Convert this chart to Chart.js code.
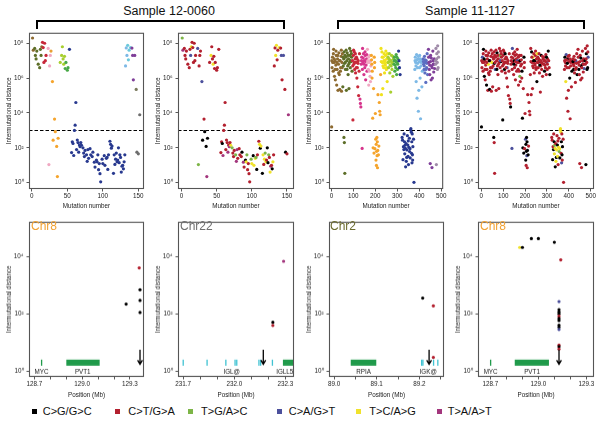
<!DOCTYPE html>
<html><head><meta charset="utf-8">
<script src="https://cdn.jsdelivr.net/npm/chart.js@4.4.1/dist/chart.umd.min.js"></script>
<style>
body{margin:0;background:#fff;width:600px;height:426px;position:relative;overflow:hidden;font-family:'Liberation Sans',Arial,sans-serif;color:#111}
canvas{position:absolute}
.stitle{position:absolute;font-size:12.5px;line-height:14px;white-space:nowrap;transform:translateX(-50%)}
.bracket{position:absolute;border:2.6px solid #000;border-bottom:none;height:7px;box-sizing:content-box}
.chr{position:absolute;font-size:12px;line-height:12px;z-index:5}
.lsq{position:absolute;width:5px;height:5px;top:409px}
.ltx{position:absolute;top:405px;font-size:11px;line-height:13px;white-space:nowrap}
</style></head><body>
<div class="stitle" style="left:169px;top:4px">Sample 12-0060</div>
<div class="stitle" style="left:470px;top:4px">Sample 11-1127</div>
<div class="bracket" style="left:35.5px;top:19.5px;width:245px"></div>
<div class="bracket" style="left:337px;top:19.5px;width:244px"></div>
<div class="chr" style="left:31px;top:220px;color:#f2a233">Chr8</div>
<div class="chr" style="left:180px;top:220px;color:#6f6f6f">Chr22</div>
<div class="chr" style="left:330px;top:220px;color:#6b6b2e">Chr2</div>
<div class="chr" style="left:480px;top:220px;color:#f2a233">Chr8</div>
<script>
// ---------------- DATA ----------------
// mutation types
const TYPE_KEYS   = ['K','R','G','B','Y','P'];
const TYPE_LABELS = ['C>G/G>C','C>T/G>A','T>G/A>C','C>A/G>T','T>C/A>G','T>A/A>T'];
// tick values (log10 of intermutational distance)
const TOP_Y_TICKS = [0,2,4,6,8];
const BOT_Y_TICKS = [0,2,4];
const S1_X_TICKS = [0,50,100,150];
const S2_X_TICKS = [0,100,200,300,400,500];
const THRESHOLD_LOG = 3;

// Sample 12-0060 : [mutation number, log10 distance, chromosome, type]
const sample1 = [
[1,8.3,1,'G'],[2,7.6,1,'P'],[4,7.7,2,'R'],[5,7.3,2,'R'],[6,7.1,2,'R'],[7,7.55,2,'R'],[9,6.8,2,'R'],[11,6.6,2,'R'],[12,7.65,2,'R'],[13,7.3,2,'B'],[14,7.8,1,'Y'],
[15,8.05,3,'R'],[16,7.75,3,'R'],[17,6.9,3,'R'],[18,8.0,3,'R'],[19,7.0,3,'R'],[20,7.3,3,'R'],[23,7.7,5,'B'],[24,1.04,5,'G'],[25,6.7,5,'R'],[26,7.3,5,'R'],[27,7.55,6,'R'],
[29,5.8,8,'B'],[30,2.44,8,'K'],[32,3.65,8,'R'],[33,2.93,8,'K'],[35,2.08,8,'K'],[36,0.35,8,'P'],[37,2.55,8,'K'],
[40,6.9,10,'R'],[42,7.3,10,'Y'],[43,7.8,10,'R'],[44,7.1,10,'R'],[45,6.8,10,'Y'],[46,7.25,10,'R'],[47,6.55,11,'R'],[48,6.9,11,'R'],[50,6.45,11,'R'],[51,6.6,11,'R'],[53,7.65,14,'R'],
[56,1.73,14,'R'],[57,2.35,14,'R'],[58,2.25,14,'K'],[59,1.56,14,'P'],[60,3.0,14,'R'],[61,3.3,14,'R'],[62,4.6,14,'R'],[63,1.9,14,'R'],[64,2.45,14,'R'],[65,2.3,14,'R'],[66,1.75,14,'P'],
[67,2.16,14,'R'],[68,2.07,14,'P'],[69,2.3,14,'R'],[70,2.15,14,'Y'],[72,2.0,14,'G'],[73,1.7,14,'R'],[74,1.5,14,'R'],[75,1.85,14,'R'],[77,1.6,14,'G'],[78,1.23,14,'P'],[79,1.9,14,'P'],
[80,1.4,14,'R'],[82,1.95,14,'R'],[83,1.6,14,'R'],[85,1.5,14,'R'],[86,1.75,14,'K'],[88,1.18,14,'P'],[89,0.9,14,'R'],[91,1.3,14,'K'],[92,1.2,14,'Y'],[93,1.6,14,'G'],[94,0.75,14,'R'],
[95,1.1,14,'R'],[96,0.52,14,'R'],[97,0.05,14,'R'],[99,1.35,14,'G'],[100,1.1,14,'Y'],[102,1.55,14,'K'],[103,1.0,14,'Y'],[105,1.4,14,'Y'],[106,1.45,14,'G'],[107,0.76,14,'K'],[108,1.6,14,'R'],
[110,2.38,14,'R'],[111,2.2,14,'Y'],[112,1.98,14,'K'],[113,2.1,14,'Y'],[115,0.54,14,'K'],[116,1.6,14,'Y'],[117,1.05,14,'R'],[118,1.35,14,'Y'],[119,1.7,14,'G'],[120,1.2,14,'Y'],
[121,1.3,14,'R'],[122,2.0,14,'K'],[123,1.15,14,'K'],[124,1.6,14,'G'],[125,1.45,14,'R'],[126,0.61,14,'Y'],[127,0.95,14,'P'],[128,1.0,14,'R'],[129,0.8,14,'K'],[130,1.2,14,'Y'],[131,1.6,14,'R'],
[132,6.7,16,'R'],[133,7.73,16,'R'],[134,7.3,16,'Y'],[135,7.88,17,'Y'],[136,7.05,17,'R'],[137,7.6,17,'R'],[139,7.75,17,'Y'],[141,7.72,19,'R'],[142,7.3,19,'B'],[143,5.9,19,'R'],[145,7.3,19,'B'],
[147,5.35,21,'R'],[148,1.75,22,'K'],[150,1.66,22,'R'],[152,3.9,22,'P']
];

// Sample 11-1127 : [mutation number, log10 distance, chromosome, type]
const sample2 = [
[1,3.2,1,'K'],[3,6.6,1,'R'],[5,7.2,1,'B'],[8,6.4,1,'R'],[10,7.65,1,'K'],[12,6.9,1,'R'],[14,6.1,1,'K'],[16,7.0,1,'R'],[18,5.9,1,'R'],[20,6.75,1,'R'],[22,7.3,1,'R'],[24,5.6,1,'K'],
[26,6.5,1,'R'],[28,7.1,1,'R'],[30,5.3,1,'R'],[32,6.8,1,'Y'],[34,7.45,1,'R'],[36,6.2,1,'R'],[38,5.35,1,'K'],[40,7.0,1,'R'],[42,6.6,1,'R'],[44,7.25,1,'R'],[46,5.25,1,'R'],[48,6.9,1,'Y'],[50,7.4,1,'R'],
[2,7.0,1,'R'],[6,6.9,1,'R'],[9,7.4,1,'R'],[13,7.1,1,'K'],[17,6.5,1,'R'],[21,7.55,1,'R'],[25,6.9,1,'R'],[29,7.3,1,'R'],[33,6.3,1,'R'],[37,7.0,1,'K'],[41,6.4,1,'R'],[45,7.6,1,'R'],[49,6.6,1,'R'],
[52,5.5,2,'R'],[54,6.7,2,'R'],[56,7.1,2,'R'],[57,2.6,2,'K'],[58,7.5,2,'R'],[59,2.3,2,'R'],[60,6.85,2,'K'],[61,0.54,2,'R'],[62,7.3,2,'R'],[64,6.5,2,'B'],[66,7.2,2,'R'],[68,5.3,2,'R'],
[70,7.0,2,'R'],[72,7.45,2,'K'],[74,6.7,2,'R'],[76,6.2,2,'R'],[78,7.1,2,'R'],[80,5.4,2,'R'],[82,6.9,2,'R'],[84,7.3,2,'G'],[86,6.6,2,'R'],[88,7.55,2,'R'],[90,6.95,2,'K'],[92,7.2,2,'R'],[94,6.4,2,'R'],
[53,7.2,2,'R'],[63,6.9,2,'R'],[67,7.6,2,'R'],[71,6.5,2,'K'],[75,7.3,2,'R'],[79,6.8,2,'R'],[83,7.7,2,'R'],[87,7.0,2,'B'],[91,7.4,2,'R'],
[96,7.0,3,'R'],[98,3.6,3,'K'],[100,7.3,3,'R'],[102,6.8,3,'R'],[104,7.5,3,'R'],[106,6.5,3,'K'],[108,7.1,3,'R'],[110,6.3,3,'R'],[112,6.9,3,'R'],[114,7.2,3,'R'],[116,6.0,3,'R'],[118,6.6,3,'B'],
[120,5.5,3,'R'],[122,7.0,3,'R'],[124,5.0,3,'R'],[126,6.4,3,'R'],[128,7.4,3,'R'],
[97,6.7,3,'R'],[101,7.6,3,'R'],[105,6.9,3,'R'],[109,7.4,3,'K'],[113,6.6,3,'R'],[117,7.1,3,'R'],[121,6.85,3,'R'],
[130,4.8,4,'R'],[132,4.55,4,'R'],[134,4.35,4,'K'],[136,6.8,4,'R'],[138,7.2,4,'R'],[140,1.97,4,'B'],[142,7.7,4,'B'],[144,6.9,4,'R'],[146,7.4,4,'R'],[148,6.2,4,'R'],[150,7.0,4,'K'],
[152,6.6,4,'R'],[154,7.3,4,'R'],[156,5.9,4,'R'],[158,6.75,4,'R'],[160,7.1,4,'R'],[162,6.4,4,'R'],
[137,7.0,4,'R'],[141,6.5,4,'R'],[145,7.15,4,'R'],[149,6.8,4,'K'],[153,7.5,4,'R'],[157,6.95,4,'R'],[161,7.35,4,'R'],
[164,7.65,5,'R'],[166,7.0,5,'B'],[168,6.5,5,'R'],[170,5.6,5,'R'],[172,6.9,5,'R'],[174,7.3,5,'R'],[176,6.1,5,'G'],[178,5.8,5,'R'],[180,6.7,5,'R'],
[165,6.9,5,'R'],[169,7.2,5,'R'],[173,6.4,5,'R'],[177,7.0,5,'K'],
[182,7.3,8,'R'],[184,6.8,8,'R'],[186,6.4,8,'K'],[188,3.7,8,'K'],[190,2.0,8,'K'],[192,5.4,8,'R'],[194,1.7,8,'K'],[196,6.6,8,'R'],[198,1.95,8,'R'],[200,3.97,8,'R'],[202,2.5,8,'B'],
[203,1.3,8,'K'],[204,2.2,8,'K'],[205,0.99,8,'R'],[206,1.8,8,'K'],[207,2.6,8,'K'],[208,1.55,8,'B'],[209,2.35,8,'K'],[210,0.86,8,'R'],[211,1.85,8,'K'],[212,5.05,8,'R'],[214,1.6,8,'K'],
[216,2.1,8,'R'],[218,4.6,8,'R'],[220,4.1,8,'R'],[222,3.9,8,'R'],[224,6.2,8,'R'],
[183,7.05,8,'R'],[185,6.0,8,'R'],[195,7.2,8,'K'],[197,6.9,8,'R'],
[226,7.7,9,'R'],[228,5.05,9,'R'],[230,7.5,9,'K'],[232,6.9,9,'R'],[234,5.4,9,'R'],[236,7.2,9,'Y'],[238,6.6,9,'R'],[240,7.4,9,'R'],[242,6.3,9,'R'],[244,7.0,9,'K'],[246,6.75,9,'R'],
[248,7.55,9,'R'],[250,6.5,9,'R'],[252,7.1,9,'R'],[254,5.8,9,'K'],[256,6.9,9,'R'],
[227,6.95,9,'R'],[231,7.2,9,'R'],[235,6.7,9,'R'],[239,7.0,9,'K'],[243,6.85,9,'R'],[247,7.3,9,'R'],[251,6.6,9,'R'],[255,7.4,9,'Y'],
[258,7.2,10,'R'],[260,6.6,10,'R'],[262,6.95,10,'K'],[264,7.4,10,'R'],[266,6.3,10,'R'],[268,7.0,10,'R'],[270,5.2,10,'R'],[272,6.7,10,'R'],[274,7.3,10,'K'],[276,6.5,10,'R'],[278,6.85,10,'R'],[280,6.1,10,'R'],[282,7.1,10,'R'],
[259,6.9,10,'R'],[263,7.1,10,'R'],[267,6.75,10,'K'],[271,7.0,10,'R'],[275,6.9,10,'R'],[279,7.25,10,'R'],
[285,6.8,11,'R'],[287,7.2,11,'R'],[289,6.4,11,'K'],[291,7.0,11,'R'],[293,6.6,11,'R'],[295,7.35,11,'R'],[297,6.2,11,'R'],[299,6.9,11,'B'],[301,6.5,11,'R'],[303,7.1,11,'R'],
[286,7.0,11,'R'],[290,6.75,11,'R'],[294,6.95,11,'R'],[298,7.2,11,'K'],[302,6.8,11,'R'],
[306,7.55,14,'K'],[308,7.0,14,'R'],[310,6.6,14,'R'],[313,6.2,14,'K'],
[322,2.6,14,'R'],[324,2.44,14,'R'],[326,1.32,14,'K'],[328,2.07,14,'R'],[330,1.9,14,'K'],[331,2.8,14,'R'],[333,2.35,14,'K'],[334,1.66,14,'Y'],[335,2.15,14,'G'],[337,1.97,14,'Y'],
[338,0.91,14,'K'],[340,2.25,14,'R'],[341,1.23,14,'Y'],[343,1.45,14,'K'],[344,1.88,14,'Y'],[346,2.7,14,'R'],[348,2.16,14,'K'],[349,1.51,14,'Y'],[350,2.4,14,'R'],[351,1.04,14,'R'],
[353,2.03,14,'Y'],[355,2.55,14,'R'],[356,1.79,14,'G'],[358,1.95,14,'Y'],[359,1.42,14,'K'],[361,3.03,14,'Y'],[362,3.1,14,'Y'],[364,2.9,14,'Y'],[365,1.69,14,'R'],[366,2.35,14,'K'],
[367,1.14,14,'B'],[368,2.8,14,'R'],[369,1.6,14,'K'],[370,1.3,14,'R'],[371,2.07,14,'K'],[374,2.5,14,'R'],[376,0.02,14,'R'],
[380,6.5,16,'R'],[382,7.2,16,'K'],[384,6.9,16,'R'],[386,5.8,16,'Y'],[388,7.35,16,'B'],[390,4.85,16,'R'],[392,6.6,16,'R'],[394,7.1,16,'K'],[396,4.1,16,'R'],[398,5.3,16,'R'],
[400,6.95,16,'R'],[402,7.3,16,'R'],[404,6.0,16,'K'],[406,3.67,16,'R'],[408,6.7,16,'R'],[410,7.0,16,'R'],[412,5.5,16,'R'],[414,6.4,16,'K'],
[381,7.0,16,'R'],[385,6.7,16,'R'],[389,7.05,16,'R'],[393,6.85,16,'K'],[397,7.25,16,'R'],[401,6.6,16,'R'],[405,7.1,16,'R'],[409,6.9,16,'R'],
[418,7.1,18,'R'],[420,6.8,18,'R'],[422,6.5,18,'K'],[424,7.25,18,'R'],[426,6.3,18,'R'],[428,6.9,18,'R'],[430,5.75,18,'R'],[432,7.0,18,'B'],[434,6.6,18,'R'],[436,7.4,18,'R'],[438,6.2,18,'K'],
[419,6.95,18,'K'],[423,6.7,18,'R'],[427,7.05,18,'R'],[431,6.5,18,'R'],[435,6.85,18,'R'],
[442,7.65,19,'R'],[444,6.9,19,'R'],[446,6.5,19,'K'],[448,6.2,19,'R'],[450,1.1,19,'R'],[452,7.3,19,'R'],[454,5.9,19,'R'],[456,6.7,19,'K'],[458,0.87,19,'R'],[460,6.0,19,'R'],
[462,7.55,19,'R'],[464,6.8,19,'K'],[466,6.35,19,'R'],[468,7.1,19,'R'],[470,6.55,19,'B'],
[443,7.2,19,'R'],[447,6.75,19,'R'],[451,6.95,19,'R'],[455,7.15,19,'K'],[459,6.6,19,'R'],[463,7.0,19,'R'],[467,6.8,19,'R'],
[474,7.0,20,'K'],[476,7.7,20,'R'],[478,1.04,20,'K'],[480,7.4,20,'K'],[482,6.9,20,'R'],[484,7.85,20,'R'],[486,6.6,20,'K'],[488,7.2,20,'B'],
[475,6.8,20,'R'],[479,7.1,20,'R'],[483,6.5,20,'K'],[487,7.5,20,'R']
];

// Zoomed regions: position (Mb), log10 distance, type
const chr8S1Pos  = [129.276,129.358,129.363,129.363,129.363];
const chr8S1Log  = [2.34,3.6,2.84,2.47,2.05];
const chr8S1Type = ['K','R','K','K','K'];
const chr22Pos  = [232.226,232.226,232.289];
const chr22Log  = [1.71,1.6,3.83];
const chr22Type = ['K','R','P'];
const chr2Pos  = [89.208,89.233,89.233];
const chr2Log  = [2.55,2.28,0.49];
const chr2Type = ['K','R','R'];
const chr8S2Pos  = [128.883,128.9,128.956,129.0,129.1,129.14,129.129,129.129,129.129,129.129,129.129,129.129,129.129,129.129,129.129,129.129,129.129,129.129,129.129];
const chr8S2Log  = [4.31,4.31,4.62,4.62,4.49,3.88,2.43,2.15,2.07,2.0,1.92,1.84,1.77,1.61,1.54,1.46,0.92,0.86,0.78];
const chr8S2Type = ['Y','K','K','K','K','R','B','K','K','K','R','K','K','K','K','B','R','K','R'];

// genes: [kind, start Mb, end Mb]; labels: [name, centre Mb]
const chr8S1Genes = [['g',128.744,128.748],['g',128.901,129.11]];
const chr8S1Labels = [['MYC',128.746],['PVT1',129.004]];
const chr22Genes = [['c',231.699,231.702],['c',231.839,231.842],['c',231.949,231.952],['c',232.003,232.006],['c',232.013,232.016],['c',232.143,232.146],['c',232.153,232.156],['c',232.222,232.225],['g',232.285,232.36]];
const chr22Labels = [['IGL@',231.985],['IGLL5',232.296]];
const chr2Genes = [['g',89.039,89.099],['c',89.205,89.206],['c',89.208,89.209],['c',89.233,89.234],['c',89.243,89.244]];
const chr2Labels = [['RPIA',89.069],['IGK@',89.221]];
const chr8S2Genes = [['g',128.699,128.703],['g',128.852,129.066]];
const chr8S2Labels = [['MYC',128.701],['PVT1',128.96]];
const chr8S1Arrow = 129.363, chr22Arrow = 232.17, chr2Arrow = 89.223, chr8S2Arrow = 129.129;

const P58_TICKS = [128.7,128.8,128.9,129.0,129.1,129.2,129.3], P58_LABELS = [128.7,129.0,129.3];
const P6_TICKS = [231.7,231.8,231.9,232.0,232.1,232.2,232.3], P6_LABELS = [231.7,232.0,232.3];
const P7_TICKS = [89.0,89.05,89.1,89.15,89.2,89.25], P7_LABELS = [89.0,89.1,89.2];

// ---------------- STYLE ----------------
const TYPE_COLORS = {K:'#000000',R:'#b3202f',G:'#7db547',B:'#4c509c',Y:'#f0e22c',P:'#a3367d'};
const CHR_COLORS = {1:'#8d6a30',2:'#5d6e28',3:'#c8283a',4:'#d6358c',5:'#f0a8c2',6:'#e8a035',8:'#f5a42c',9:'#f0e21c',10:'#a8cf30',11:'#47a846',
  14:'#28398f',16:'#7db9e6',17:'#6cc9dc',18:'#5b6ec2',19:'#7f3f99',20:'#9f8aa8',21:'#7b7b5e',22:'#6d6d6d'};
const GENE_COLORS = {g:'#1f9a4a', c:'#3fc2d2'};
const GENE_TRACK = [0.2,0.41], GENE_LABEL_LEVEL = -0.02, ARROW_FROM = 0.75, ARROW_TO = 0.25;
const FONT = "'Liberation Sans', Arial, sans-serif";
Chart.defaults.font.family = FONT;
const SUP = '⁰¹²³⁴⁵⁶⁷⁸⁹';
const supLabel = v => '10' + String(v).split('').map(d => SUP[+d]).join('');

const framePlugin = {id:'frame', afterDatasetsDraw(chart){
  const {ctx, chartArea:a} = chart; ctx.save(); ctx.strokeStyle='#555'; ctx.lineWidth=1.1;
  ctx.strokeRect(a.left+0.5, a.top+0.5, a.right-a.left-1, a.bottom-a.top-1); ctx.restore();}};
const thresholdPlugin = {id:'thr', beforeDatasetsDraw(chart){
  const {ctx, chartArea:a, scales:{y}} = chart; const py = Math.round(y.getPixelForValue(THRESHOLD_LOG))+0.5;
  ctx.save(); ctx.strokeStyle='#000'; ctx.lineWidth=1; ctx.setLineDash([3.5,2]);
  ctx.beginPath(); ctx.moveTo(a.left, py); ctx.lineTo(a.right, py); ctx.stroke(); ctx.restore();}};
function genePlugin(genes, labels, arrow){
  return {id:'genes',
    beforeDatasetsDraw(chart){
      const {ctx, chartArea:a, scales:{x,y}} = chart;
      ctx.save(); ctx.beginPath(); ctx.rect(a.left,a.top,a.right-a.left,a.bottom-a.top); ctx.clip();
      const yT = y.getPixelForValue(GENE_TRACK[1]), yB = y.getPixelForValue(GENE_TRACK[0]);
      genes.forEach(g => { let x0 = x.getPixelForValue(g[1]), x1 = x.getPixelForValue(g[2]);
        if (x1-x0 < 1.3) { const c=(x0+x1)/2; x0=c-0.65; x1=c+0.65; }
        ctx.fillStyle = GENE_COLORS[g[0]]; ctx.fillRect(x0, yT, x1-x0, yB-yT); });
      ctx.fillStyle='#222'; ctx.font = "6.3px " + FONT; ctx.textAlign='center'; ctx.textBaseline='middle';
      labels.forEach(l => ctx.fillText(l[0], x.getPixelForValue(l[1]), y.getPixelForValue(GENE_LABEL_LEVEL)));
      ctx.restore();
    },
    afterDatasetsDraw(chart){
      const {ctx, scales:{x,y}} = chart; const px = x.getPixelForValue(arrow);
      const y0 = y.getPixelForValue(ARROW_FROM), y1 = y.getPixelForValue(ARROW_TO);
      ctx.save(); ctx.strokeStyle='#000'; ctx.lineWidth=1.3;
      ctx.beginPath(); ctx.moveTo(px,y0); ctx.lineTo(px,y1); ctx.moveTo(px-2.4,y1-4); ctx.lineTo(px,y1); ctx.lineTo(px+2.4,y1-4); ctx.stroke(); ctx.restore();
    }};
}

function pointDataset(xs, ys, colors){
  return {data: xs.map((v,i)=>({x:v, y:ys[i]})), pointBackgroundColor: colors, pointBorderWidth:0,
    pointBorderColor:'rgba(0,0,0,0)', pointRadius:1.6, pointHoverRadius:1.6, showLine:false};
}

function makePanel(p){
  const YW = 29, PT = 4, PR = 3, XH = 22;
  const w = YW + (p.right-p.left) + PR, h = PT + (p.bottom-p.top) + XH;
  const c = document.createElement('canvas');
  c.width = w; c.height = h; c.style.left = (p.left-YW)+'px'; c.style.top = (p.top-PT)+'px';
  c.style.width = w+'px'; c.style.height = h+'px';
  document.body.appendChild(c);
  const tickFont = {size:6.3, family:FONT};
  new Chart(c, {type:'scatter', data:{datasets:p.datasets},
    options:{responsive:false, animation:false, devicePixelRatio:1, events:[],
      layout:{padding:{top:PT,right:PR,left:0,bottom:0}, autoPadding:false},
      plugins:{legend:{display:false}, tooltip:{enabled:false}},
      scales:{
        x:{type:'linear', min:p.xmin, max:p.xmax,
          afterFit:s=>{s.height = XH;},
          afterBuildTicks:s=>{s.ticks = p.xticks.map(v=>({value:v}));},
          ticks:{font:tickFont, color:'#222', padding:0.5, maxRotation:0, autoSkip:false,
            callback:v=>{ if(!p.xlabels) return String(v); const m=p.xlabels.find(l=>Math.abs(l-v)<1e-6); return m===undefined?'':m.toFixed(1);} },
          grid:{display:true, drawOnChartArea:false, tickLength:2.5, color:'#444', tickWidth:0.9},
          border:{display:false},
          title:{display:true, text:p.xtitle, font:tickFont, color:'#222', padding:{top:0,bottom:p.xtitlePad}}},
        y:{type:'linear', min:p.ymin, max:p.ymax,
          afterFit:s=>{s.width = YW;},
          afterBuildTicks:s=>{s.ticks = p.yticks.map(v=>({value:v}));},
          ticks:{font:tickFont, color:'#222', padding:3, callback:v=>supLabel(v)},
          grid:{display:true, drawOnChartArea:false, tickLength:2.5, color:'#444', tickWidth:0.9},
          border:{display:false},
          title:{display:true, text:'Intermutational distance', font:tickFont, color:'#222', padding:{top:5.2,bottom:0}}}
      }},
    plugins:[framePlugin].concat(p.plugins||[])});
}

const TOP = {top:30, bottom:189, ymin:-0.36, ymax:8.6, yticks:TOP_Y_TICKS, xtitle:'Mutation number', xtitlePad:0.5, plugins:[thresholdPlugin]};
const BOT = {top:219, bottom:376.5, ymin:-0.19, ymax:5.2, yticks:BOT_Y_TICKS, xtitle:'Position (Mb)', xtitlePad:0};

makePanel(Object.assign({}, TOP, {left:29, right:144, xmin:-4, xmax:158, xticks:S1_X_TICKS,
  datasets:[pointDataset(sample1.map(r=>r[0]), sample1.map(r=>r[1]), sample1.map(r=>CHR_COLORS[r[2]]))]}));
makePanel(Object.assign({}, TOP, {left:178, right:294, xmin:-5, xmax:160, xticks:S1_X_TICKS,
  datasets:[pointDataset(sample1.map(r=>r[0]), sample1.map(r=>r[1]), sample1.map(r=>TYPE_COLORS[r[3]]))]}));
makePanel(Object.assign({}, TOP, {left:329, right:444, xmin:-11, xmax:509, xticks:S2_X_TICKS,
  datasets:[pointDataset(sample2.map(r=>r[0]), sample2.map(r=>r[1]), sample2.map(r=>CHR_COLORS[r[2]]))]}));
makePanel(Object.assign({}, TOP, {left:478, right:594, xmin:-15, xmax:515, xticks:S2_X_TICKS,
  datasets:[pointDataset(sample2.map(r=>r[0]), sample2.map(r=>r[1]), sample2.map(r=>TYPE_COLORS[r[3]]))]}));

makePanel(Object.assign({}, BOT, {left:29, right:144, xmin:128.667, xmax:129.388, xticks:P58_TICKS, xlabels:P58_LABELS,
  datasets:[pointDataset(chr8S1Pos, chr8S1Log, chr8S1Type.map(t=>TYPE_COLORS[t]))], plugins:[genePlugin(chr8S1Genes, chr8S1Labels, chr8S1Arrow)]}));
makePanel(Object.assign({}, BOT, {left:178, right:294, xmin:231.67, xmax:232.35, xticks:P6_TICKS, xlabels:P6_LABELS,
  datasets:[pointDataset(chr22Pos, chr22Log, chr22Type.map(t=>TYPE_COLORS[t]))], plugins:[genePlugin(chr22Genes, chr22Labels, chr22Arrow)]}));
makePanel(Object.assign({}, BOT, {left:329, right:444, xmin:88.988, xmax:89.258, xticks:P7_TICKS, xlabels:P7_LABELS,
  datasets:[pointDataset(chr2Pos, chr2Log, chr2Type.map(t=>TYPE_COLORS[t]))], plugins:[genePlugin(chr2Genes, chr2Labels, chr2Arrow)]}));
makePanel(Object.assign({}, BOT, {left:478, right:594, xmin:128.622, xmax:129.348, xticks:P58_TICKS, xlabels:P58_LABELS,
  datasets:[pointDataset(chr8S2Pos, chr8S2Log, chr8S2Type.map(t=>TYPE_COLORS[t]))], plugins:[genePlugin(chr8S2Genes, chr8S2Labels, chr8S2Arrow)]}));

// legend
const LEG_SQ_X = [31.7,115,188,277,356,437], LEG_TX_X = [42.7,128.3,201,288.7,369.3,447.7];
TYPE_KEYS.forEach((k,i)=>{
  const s=document.createElement('div'); s.className='lsq'; s.style.left=LEG_SQ_X[i]+'px'; s.style.background=TYPE_COLORS[k]; document.body.appendChild(s);
  const t=document.createElement('div'); t.className='ltx'; t.style.left=LEG_TX_X[i]+'px'; t.textContent=TYPE_LABELS[i]; document.body.appendChild(t);
});
</script>
</body></html>
